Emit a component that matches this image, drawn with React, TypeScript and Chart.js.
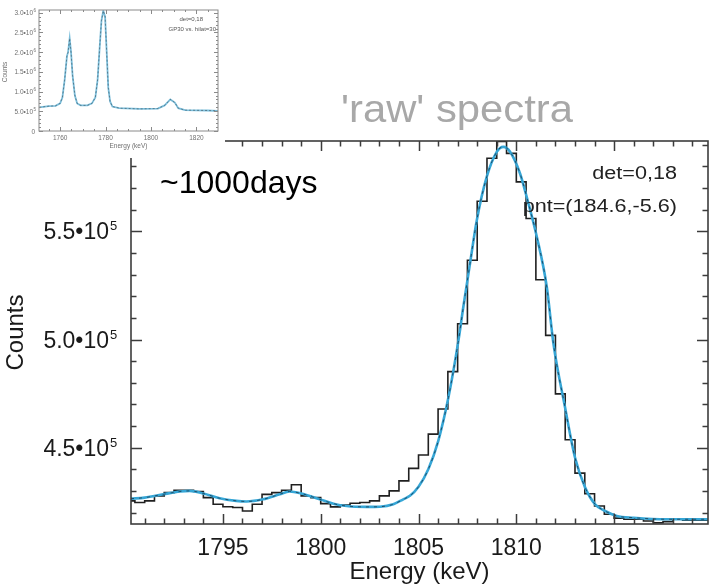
import React, { useEffect, useRef } from "react";
import { Chart, registerables } from "chart.js";
Chart.register(...registerables);

const FONT = '"Liberation Sans", Arial, Helvetica, sans-serif';

// ---------- main chart data ----------
const histEdges = [
  1790.0, 1790.5, 1791.0, 1791.5, 1792.0, 1792.5, 1793.0, 1793.5, 1794.0, 1794.5,
  1795.0, 1795.5, 1796.0, 1796.5, 1797.0, 1797.5, 1798.0, 1798.5, 1799.0, 1799.5,
  1800.0, 1800.5, 1801.0, 1801.5, 1802.0, 1802.5, 1803.0, 1803.5, 1804.0, 1804.5,
  1805.0, 1805.5, 1806.0, 1806.5, 1807.0, 1807.5, 1808.0, 1808.5, 1809.0, 1809.5,
  1810.0, 1810.5, 1811.0, 1811.5, 1812.0, 1812.5, 1813.0, 1813.5, 1814.0, 1814.5,
  1815.0, 1815.5, 1816.0, 1816.5, 1817.0, 1817.5, 1818.0, 1818.5, 1819.0, 1819.5,
];
const histCounts = [
  425500, 424700, 425500, 427800, 429300, 430400, 430400, 429800, 427000, 423900,
  422800, 422400, 420800, 423900, 428500, 429300, 430400, 432900, 427800, 427000,
  424200, 422700, 423600, 424400, 424700, 425500, 427800, 430100, 434700, 440500,
  446700, 456300, 467900, 485200, 507300, 536600, 563900, 583700, 591500, 586000,
  572800, 555900, 527600, 501900, 474900, 453700, 438300, 428800, 423100, 419300,
  417500, 417000, 417000, 416200, 415400, 415900, 417000, 416500, 416500, 416500,
];
const histBinWidth = 0.5;

const fitEnergy = [
  1790.3, 1791.0, 1791.95, 1792.8, 1793.3, 1794.0, 1794.83, 1795.68, 1796.2, 1797.05,
  1797.9, 1798.4, 1799.0, 1799.95, 1800.65, 1801.33, 1802.35, 1803.03, 1803.71, 1804.22,
  1804.56, 1805.0, 1805.5, 1806.01, 1806.53, 1807.04, 1807.29, 1807.63, 1807.98, 1808.49,
  1809.0, 1809.34, 1809.68, 1810.19, 1810.53, 1811.05, 1811.56, 1811.9, 1812.49, 1813.0,
  1813.52, 1814.03, 1814.54, 1815.14, 1816.0, 1817.7, 1819.8,
];
const fitCounts = [
  426500, 427000, 428500, 429800, 430100, 428900, 426700, 425500, 425200, 426200,
  428500, 429800, 428900, 426200, 424200, 423100, 422700, 422800, 423900, 426200,
  427800, 432000, 440100, 453200, 473300, 499500, 515000, 535000, 555100, 575200,
  586700, 589000, 586700, 576700, 565900, 547400, 524200, 498000, 468700, 445500,
  431600, 423900, 420800, 418500, 417700, 417000, 417000,
];

const xMajorTicks = [1795, 1800, 1805, 1810, 1815];
const xTickLabels = ["1795", "1800", "1805", "1810", "1815"];
const yMajorTicks = [450000, 500000, 550000];
const yTickMantissa = ["4.5•10", "5.0•10", "5.5•10"];
const yTickExponent = ["5", "5", "5"];
const X_RANGE = [1790.3, 1819.8];
const Y_RANGE = [414800, 591700];

const TITLE = "'raw' spectra";
const X_TITLE = "Energy (keV)";
const Y_TITLE = "Counts";
const NOTE_DAYS = "~1000days";
const NOTE_DET = "det=0,18";
const NOTE_PNT = "pnt=(184.6,-5.6)";

// ---------- inset data ----------
const insetEnergy = [
  1750.8, 1755, 1758, 1760, 1761, 1762, 1763, 1763.5, 1764.2, 1764.8,
  1765.5, 1766.5, 1767.5, 1769, 1772, 1774, 1775.5, 1776.5, 1777.5, 1778.2,
  1779, 1779.8, 1780.5, 1781.2, 1782, 1783, 1786, 1795, 1803, 1806,
  1808.5, 1810.5, 1812, 1815, 1825, 1829.4,
];
const insetCounts = [
  600000, 630000, 640000, 700000, 850000, 1300000, 1900000, 2000000, 2350000, 2000000,
  1400000, 900000, 700000, 650000, 650000, 700000, 850000, 1300000, 2200000, 2800000,
  3050000, 2900000, 2000000, 1100000, 750000, 620000, 580000, 560000, 570000, 650000,
  800000, 720000, 580000, 530000, 520000, 510000,
];
const insetXTicks = [1760, 1780, 1800, 1820];
const insetXLabels = ["1760", "1780", "1800", "1820"];
const insetYTicks = [0, 500000, 1000000, 1500000, 2000000, 2500000, 3000000];
const insetYMantissa = ["0", "5.0•10", "1.0•10", "1.5•10", "2.0•10", "2.5•10", "3.0•10"];
const insetYExponent = ["", "5", "6", "6", "6", "6", "6"];
const INSET_X_RANGE = [1750.7, 1829.5];
const INSET_Y_RANGE = [0, 3070000];
const INSET_NOTE1 = "det=0,18";
const INSET_NOTE2 = "GP30 vs. hilat=30";

function txt(
  ctx: CanvasRenderingContext2D,
  s: string,
  x: number,
  y: number,
  font: string,
  color: string,
  align: CanvasTextAlign,
  sx = 1,
  rot = 0
) {
  ctx.save();
  ctx.translate(x, y);
  if (rot) ctx.rotate(rot);
  ctx.scale(sx, 1);
  ctx.font = font;
  ctx.fillStyle = color;
  ctx.textAlign = align;
  ctx.textBaseline = "alphabetic";
  ctx.fillText(s, 0, 0);
  ctx.restore();
}

function tickPath(ctx: CanvasRenderingContext2D, lines: number[][], color: string, width: number) {
  ctx.save();
  ctx.setLineDash([]);
  ctx.strokeStyle = color;
  ctx.lineWidth = width;
  ctx.beginPath();
  for (const l of lines) {
    ctx.moveTo(l[0], l[1]);
    ctx.lineTo(l[2], l[3]);
  }
  ctx.stroke();
  ctx.restore();
}

const mainDecor = {
  id: "mainDecor",
  afterDraw(chart: any) {
    const { ctx, chartArea: a, scales } = chart;
    const x = scales.x;
    const y = scales.y;
    const lines: number[][] = [];
    for (let v = Math.ceil(X_RANGE[0]); v <= X_RANGE[1]; v += 1) {
      const px = Math.round(x.getPixelForValue(v)) + 0.5;
      const len = xMajorTicks.indexOf(v) >= 0 ? 10 : 5.5;
      lines.push([px, a.bottom, px, a.bottom - len]);
      lines.push([px, a.top, px, a.top + len]);
    }
    for (let v = Math.ceil(Y_RANGE[0] / 10000) * 10000; v <= Y_RANGE[1]; v += 10000) {
      const py = Math.round(y.getPixelForValue(v)) + 0.5;
      const len = yMajorTicks.indexOf(v) >= 0 ? 11 : 5.5;
      lines.push([a.left, py, a.left + len, py]);
      lines.push([a.right, py, a.right - len, py]);
    }
    tickPath(ctx, lines, "#3c3c3c", 1.5);
    ctx.save();
    ctx.setLineDash([]);
    ctx.strokeStyle = "#3c3c3c";
    ctx.lineWidth = 1.6;
    ctx.strokeRect(a.left, a.top, a.right - a.left, a.bottom - a.top);
    ctx.restore();
    xMajorTicks.forEach((v, i) => {
      txt(ctx, xTickLabels[i], x.getPixelForValue(v), a.bottom + 31, `23px ${FONT}`, "#1a1a1a", "center");
    });
    yMajorTicks.forEach((v, i) => {
      const py = y.getPixelForValue(v);
      txt(ctx, yTickMantissa[i], a.left - 22, py + 8, `23px ${FONT}`, "#1a1a1a", "right");
      txt(ctx, yTickExponent[i], a.left - 21, py - 1, `13px ${FONT}`, "#1a1a1a", "left");
    });
    txt(ctx, X_TITLE, (a.left + a.right) / 2, a.bottom + 55, `24px ${FONT}`, "#1a1a1a", "center");
    txt(ctx, Y_TITLE, 23, (a.top + a.bottom) / 2, `24px ${FONT}`, "#1a1a1a", "center", 1, -Math.PI / 2);
    txt(ctx, TITLE, 457, 122, `38px ${FONT}`, "#a8a8a8", "center", 1.1);
    txt(ctx, NOTE_DAYS, 160, 193, `32px ${FONT}`, "#000000", "left");
    txt(ctx, NOTE_DET, 677, 179, `18px ${FONT}`, "#222222", "right", 1.2);
    txt(ctx, NOTE_PNT, 677, 212, `18px ${FONT}`, "#222222", "right", 1.2);
  },
};

const insetDecor = {
  id: "insetDecor",
  beforeDraw(chart: any) {
    const { ctx, width, height } = chart;
    ctx.save();
    ctx.fillStyle = "#ffffff";
    ctx.fillRect(0, 0, width, height);
    ctx.restore();
  },
  afterDraw(chart: any) {
    const { ctx, chartArea: a, scales } = chart;
    const x = scales.x;
    const y = scales.y;
    const lines: number[][] = [];
    for (let v = Math.ceil(INSET_X_RANGE[0] / 5) * 5; v <= INSET_X_RANGE[1]; v += 5) {
      const px = Math.round(x.getPixelForValue(v)) + 0.5;
      const len = insetXTicks.indexOf(v) >= 0 ? 4 : 2;
      lines.push([px, a.bottom, px, a.bottom - len]);
      lines.push([px, a.top, px, a.top + len]);
    }
    for (let v = 0; v <= INSET_Y_RANGE[1]; v += 100000) {
      const py = Math.round(y.getPixelForValue(v)) + 0.5;
      const len = v % 500000 === 0 ? 4 : 2;
      lines.push([a.left, py, a.left + len, py]);
      lines.push([a.right, py, a.right - len, py]);
    }
    tickPath(ctx, lines, "#8a8a8a", 1);
    ctx.save();
    ctx.setLineDash([]);
    ctx.strokeStyle = "#8a8a8a";
    ctx.lineWidth = 1;
    ctx.strokeRect(a.left, a.top, a.right - a.left, a.bottom - a.top);
    ctx.restore();
    const c = "#707070";
    insetXTicks.forEach((v, i) => {
      txt(ctx, insetXLabels[i], x.getPixelForValue(v), a.bottom + 9, `6.5px ${FONT}`, c, "center");
    });
    insetYTicks.forEach((v, i) => {
      const py = y.getPixelForValue(v);
      const right = insetYExponent[i] ? a.left - 6 : a.left - 4;
      txt(ctx, insetYMantissa[i], right, py + 2.5, `6.5px ${FONT}`, c, "right");
      if (insetYExponent[i]) txt(ctx, insetYExponent[i], a.left - 5.5, py - 0.5, `4.5px ${FONT}`, c, "left");
    });
    txt(ctx, "Energy (keV)", (a.left + a.right) / 2, a.bottom + 17, `6.5px ${FONT}`, c, "center");
    txt(ctx, "Counts", 7, 72, `6.5px ${FONT}`, c, "center", 1, -Math.PI / 2);
    txt(ctx, INSET_NOTE1, 203, 21, `6px ${FONT}`, "#555", "right");
    txt(ctx, INSET_NOTE2, 216, 31, `6px ${FONT}`, "#555", "right");
  },
};

export default function App() {
  const mainRef = useRef<HTMLCanvasElement>(null);
  const insetRef = useRef<HTMLCanvasElement>(null);

  useEffect(() => {
    const histPoints = histEdges.map((e, i) => ({ x: e, y: histCounts[i] }));
    histPoints.push({
      x: histEdges[histEdges.length - 1] + histBinWidth,
      y: histCounts[histCounts.length - 1],
    });
    const fitPoints = fitEnergy.map((e, i) => ({ x: e, y: fitCounts[i] }));

    const main = new Chart(mainRef.current!, {
      type: "line",
      data: {
        datasets: [
          {
            data: fitPoints,
            borderColor: "rgba(20,40,60,0.7)",
            borderWidth: 1,
            borderDash: [3, 5],
            pointRadius: 0,
            cubicInterpolationMode: "monotone",
            fill: false,
          },
          {
            data: fitPoints,
            borderColor: "#36a6d6",
            borderWidth: 2.6,
            pointRadius: 0,
            cubicInterpolationMode: "monotone",
            fill: false,
          },
          {
            data: histPoints,
            borderColor: "#202020",
            borderWidth: 1.6,
            pointRadius: 0,
            stepped: "before",
            fill: false,
          },
        ],
      },
      options: {
        animation: false,
        responsive: false,
        devicePixelRatio: 1,
        layout: { padding: { left: 131, right: 1, top: 141, bottom: 63 } },
        plugins: { legend: { display: false }, tooltip: { enabled: false }, title: { display: false } },
        scales: {
          x: { type: "linear", min: X_RANGE[0], max: X_RANGE[1], display: false },
          y: { type: "linear", min: Y_RANGE[0], max: Y_RANGE[1], display: false },
        },
      },
      plugins: [mainDecor],
    } as any);

    const insetPoints = insetEnergy.map((e, i) => ({ x: e, y: insetCounts[i] }));
    const inset = new Chart(insetRef.current!, {
      type: "line",
      data: {
        datasets: [
          {
            data: insetPoints,
            borderColor: "rgba(40,50,60,0.6)",
            borderWidth: 0.8,
            borderDash: [2, 2],
            pointRadius: 0,
            fill: false,
          },
          {
            data: insetPoints,
            borderColor: "#7cbfdc",
            borderWidth: 1.8,
            pointRadius: 0,
            fill: false,
          },
        ],
      },
      options: {
        animation: false,
        responsive: false,
        devicePixelRatio: 1,
        layout: { padding: { left: 39, right: 7, top: 10, bottom: 27 } },
        plugins: { legend: { display: false }, tooltip: { enabled: false } },
        scales: {
          x: { type: "linear", min: INSET_X_RANGE[0], max: INSET_X_RANGE[1], display: false },
          y: { type: "linear", min: INSET_Y_RANGE[0], max: INSET_Y_RANGE[1], display: false },
        },
      },
      plugins: [insetDecor],
    } as any);

    return () => {
      main.destroy();
      inset.destroy();
    };
  }, []);

  return (
    <div style={{ position: "fixed", left: 0, top: 0, width: 709, height: 587, background: "#fff" }}>
      <canvas
        ref={mainRef}
        width={709}
        height={587}
        style={{ position: "absolute", left: 0, top: 0, width: 709, height: 587 }}
      />
      <canvas
        ref={insetRef}
        width={225}
        height={158}
        style={{ position: "absolute", left: 0, top: 0, width: 225, height: 158 }}
      />
    </div>
  );
}
